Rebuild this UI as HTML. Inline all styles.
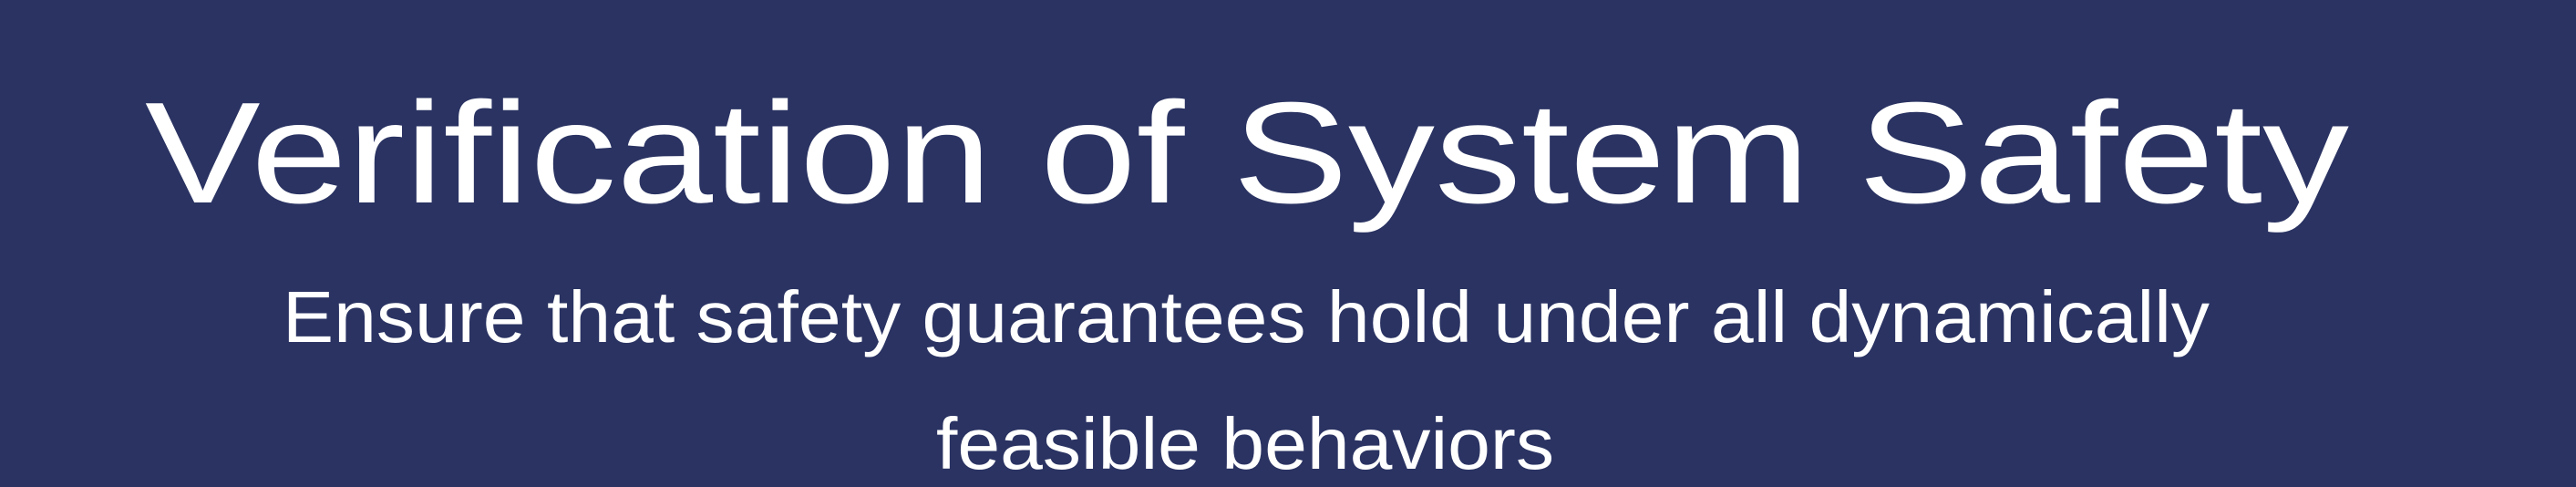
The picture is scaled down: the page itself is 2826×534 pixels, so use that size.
<!DOCTYPE html>
<html><head><meta charset="utf-8"><style>
html,body{margin:0;padding:0;background:#2a3362;}
svg{display:block}
</style></head><body>
<svg width="2826" height="534" viewBox="0 0 2826 534" xmlns="http://www.w3.org/2000/svg">
<rect width="2826" height="534" fill="#2a3362"/>
<text x="159" y="222" textLength="2418" lengthAdjust="spacingAndGlyphs" font-family="Liberation Sans, sans-serif" font-size="158" fill="#ffffff">Verification of System Safety</text>
<text x="310" y="375" textLength="2114" lengthAdjust="spacingAndGlyphs" font-family="Liberation Sans, sans-serif" font-size="80" fill="#ffffff">Ensure that safety guarantees hold under all dynamically</text>
<text x="1027" y="514" textLength="678" lengthAdjust="spacingAndGlyphs" font-family="Liberation Sans, sans-serif" font-size="80" fill="#ffffff">feasible behaviors</text>
</svg>
</body></html>
